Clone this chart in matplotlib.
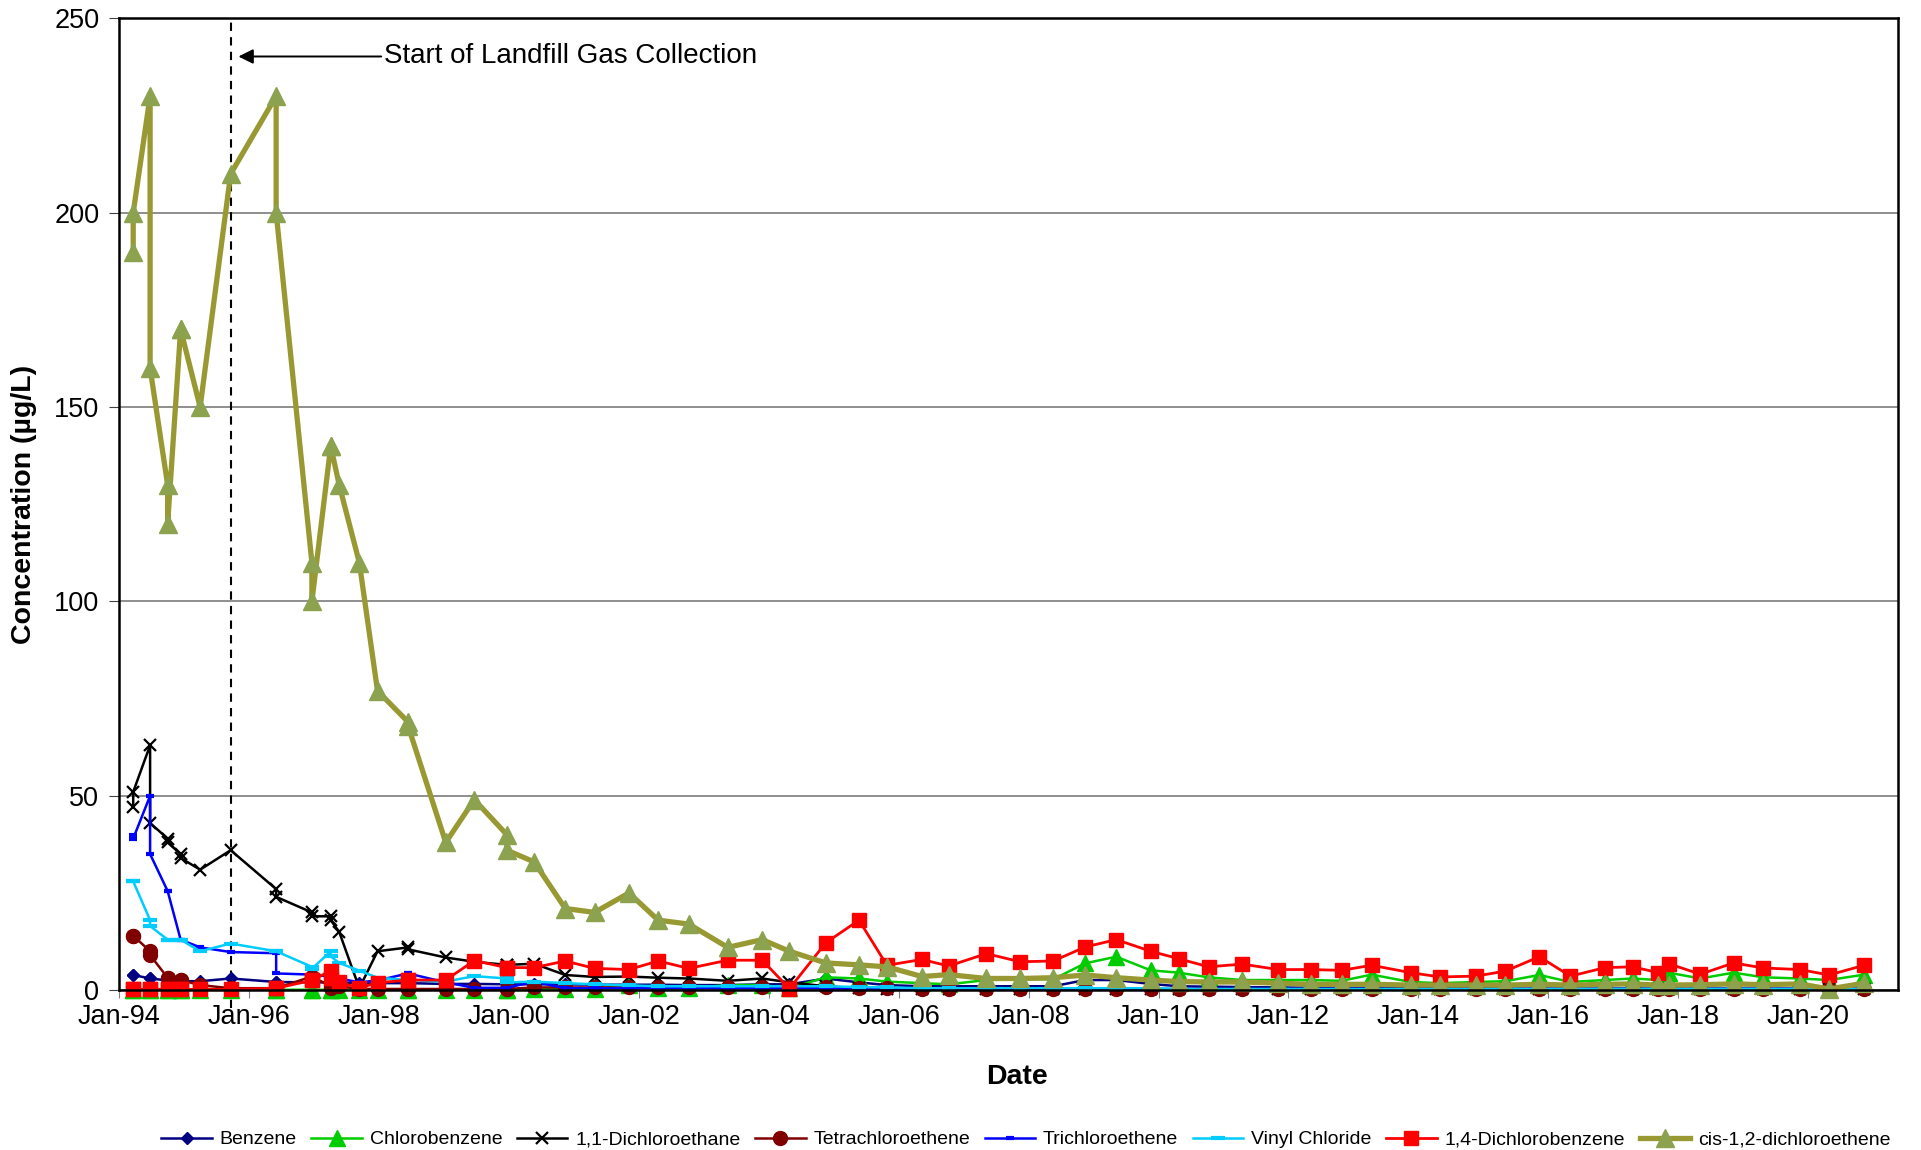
import numpy as np
import matplotlib.pyplot as plt

plt.rcParams['font.family'] = ['Liberation Sans', 'DejaVu Sans']

# sampling dates (decimal years); repeated dates are field duplicates
dates = [1994.22, 1994.22, 1994.48, 1994.48, 1994.75, 1994.75, 1994.95, 1994.95,
         1995.25, 1995.72, 1996.42, 1996.42, 1996.97, 1996.97, 1997.26, 1997.26,
         1997.39, 1997.70, 1997.98, 1998.45, 1998.45, 1999.03, 1999.47, 1999.97, 1999.97,
         2000.39, 2000.87, 2001.32, 2001.85, 2002.30, 2002.77, 2003.37, 2003.90, 2004.32, 2004.88,
         2005.39, 2005.82, 2006.36, 2006.77, 2007.35, 2007.87, 2008.38, 2008.87, 2009.35, 2009.88,
         2010.31, 2010.77, 2011.29, 2011.84, 2012.34, 2012.82, 2013.28, 2013.88, 2014.33, 2014.88,
         2015.34, 2015.86, 2016.34, 2016.87, 2017.30, 2017.69, 2017.85, 2018.34, 2018.85, 2019.31,
         2019.87, 2020.32, 2020.86]

benzene = [3.9, 3.9, 3.0, 3.0, 2.5, 2.5, 2.3, 2.3, 2.3, 3.0, 2.1, 2.1, 2.0, 2.0, 2.0, 2.0,
           2.0, 1.8, 1.8, 1.8, 1.8, 1.6, 1.6, 1.5, 1.5,
           1.5, 1.5, 1.4, 1.4, 1.4, 1.3, 1.3, 1.5, 1.5, 3.0,
           2.0, 1.3, 1.0, 1.0, 1.0, 1.0, 1.0, 2.6, 2.6, 1.6,
           1.0, 0.9, 0.8, 0.7, 0.6, 0.6, 0.5, 0.5, 0.5, 0.5,
           0.4, 0.4, 0.4, 0.4, 0.4, 0.4, 0.4, 0.4, 0.4, 0.4, 0.4, 0.4, 0.4]

chlorobenzene = [0.1, 0.1, 0.1, 0.1, 0.1, 0.1, 0.1, 0.1, 0.1, 0.1, 0.1, 0.1, 0.1, 0.1, 0.1, 0.1,
                 0.1, 0.1, 0.1, 0.1, 0.1, 0.1, 0.1, 0.1, 0.1,
                 0.3, 0.3, 0.3, 1.3, 0.5, 0.5, 1.3, 1.3, 0.5, 3.3,
                 3.0, 2.2, 1.8, 1.5, 2.6, 2.8, 2.8, 6.9, 8.6, 5.1,
                 4.5, 3.3, 2.6, 2.6, 2.6, 2.4, 4.0, 2.1, 1.8, 2.1,
                 2.3, 3.9, 2.1, 2.6, 3.0, 2.6, 4.5, 3.0, 4.5, 3.3, 3.0, 2.6, 4.0]

dca_11 = [47, 51, 63, 43, 39, 38, 35, 34, 31, 36, 26, 24, 20, 19, 19, 18,
          15, 0.5, 10, 11, 10.5, 8.4, 7.3, 6.5, 6.5,
          6.8, 3.9, 3.4, 3.5, 3.2, 3.0, 2.4, 3.0, 2.0, 1.0,
          0.5, 0.3, 0.2, 0.2, 0.2, 0.2, 0.2, 0.2, 0.2, 0.2,
          0.2, 0.2, 0.2, 0.2, 0.2, 0.2, 0.2, 0.2, 0.2, 0.2,
          0.2, 0.2, 0.2, 0.2, 0.2, 0.2, 0.2, 0.2, 0.2, 0.2, 0.2, 0.2, 0.2]

pce = [14, 14, 10, 9, 3.2, 3.2, 2.6, 2.6, 1.3, 0.5, 0.5, 0.5, 3.5, 3.5, 1.0, 0.5,
       1.0, 0.3, 0.3, 0.3, 0.3, 0.3, 0.3, 0.3, 0.3,
       0.7, 0.7, 0.7, 0.7, 0.7, 0.7, 0.7, 0.7, 0.7, 0.7,
       0.5, 0.5, 0.2, 0.2, 0.2, 0.2, 0.2, 0.2, 0.2, 0.2,
       0.2, 0.2, 0.2, 0.2, 0.2, 0.2, 0.2, 0.2, 0.2, 0.2,
       0.2, 0.2, 0.2, 0.2, 0.2, 0.2, 0.2, 0.2, 0.2, 0.2, 0.2, 0.2, 0.2]

tce = [40, 39, 50, 35, 25.5, 25.5, 13, 13, 11, 9.8, 9.5, 4.3, 4.0, 4.0, 3.5, 3.5,
       3.0, 2.0, 2.5, 4.3, 4.3, 2.0, 0.6, 0.6, 0.6,
       2.2, 0.5, 0.5, 0.5, 0.5, 0.5, 0.5, 0.5, 0.5, 0.5,
       0.3, 0.3, 0.3, 0.3, 0.3, 0.3, 0.3, 0.3, 0.3, 0.3,
       0.3, 0.3, 0.3, 0.3, 0.3, 0.3, 0.3, 0.3, 0.3, 0.3,
       0.3, 0.3, 0.3, 0.3, 0.3, 0.3, 0.3, 0.3, 0.3, 0.3, 0.3, 0.3, 0.3]

vinyl_chloride = [28, 28, 18, 16.5, 13, 13, 13, 13, 10, 12, 10, 10, 6.0, 5.5, 10, 8.7,
                  7.0, 5.0, 3.2, 2.6, 2.6, 2.2, 3.6, 3.0, 2.0,
                  2.2, 1.8, 1.5, 1.2, 1.0, 1.0, 1.0, 1.0, 1.0, 1.0,
                  0.8, 0.7, 0.5, 0.5, 0.5, 0.5, 0.5, 0.5, 0.5, 0.5,
                  0.3, 0.3, 0.3, 0.3, 0.3, 0.3, 0.3, 0.3, 0.3, 0.3,
                  0.3, 0.3, 0.3, 0.3, 0.3, 0.3, 0.3, 0.3, 0.3, 0.3, 0.3, 0.3, 0.3]

dcb_14 = [0.2, 0.2, 0.2, 0.2, 0.2, 0.2, 0.2, 0.2, 0.2, 0.2, 0.5, 0.5, 2.5, 2.5, 5.0, 3.0,
          2.0, 0.6, 1.9, 2.6, 2.6, 2.6, 7.6, 5.8, 5.8,
          5.8, 7.5, 5.6, 5.3, 7.5, 5.6, 7.7, 7.7, 0.4, 12.2,
          18, 6.4, 7.9, 6.2, 9.4, 7.3, 7.5, 11.1, 13, 10,
          8.1, 6.0, 6.7, 5.3, 5.3, 5.1, 6.4, 4.5, 3.4, 3.6,
          4.9, 8.6, 3.6, 5.8, 6.0, 4.5, 6.8, 4.1, 7.0, 5.7, 5.3, 3.9, 6.4]

cis_dce = [190, 200, 230, 160, 130, 120, 170, 170, 150, 210, 230, 200, 110, 100, 140, 140,
           130, 110, 77, 69, 68, 38, 49, 40, 36,
           33, 21, 20, 25, 18, 17, 11, 13, 10, 7,
           6.5, 6, 3.5, 4, 3, 3, 3.2, 3.9, 3.2, 2.6,
           2.2, 2.1, 2.1, 1.8, 1.5, 1.5, 1.5, 1.3, 1.3, 1.3,
           1.3, 1.5, 1.3, 1.5, 1.6, 1.3, 1.3, 1.4, 1.6, 1.4, 1.6, 0.3, 1.8]

tick_years = list(range(1994, 2021, 2))
tick_labels = ["Jan-%02d" % (y % 100) for y in tick_years]
gas_start = 1995.72

fig = plt.figure(figsize=(19.21, 11.5), dpi=100)
ax = fig.add_axes([0.0619, 0.139, 0.9261, 0.845])

# series: label, values, line color, marker, marker size, marker color, line width
series = [
    ("Benzene", benzene, "#000080", "D", 6.5, "#000080", 1.8),
    ("Chlorobenzene", chlorobenzene, "#00CC00", "^", 11, "#00CC00", 1.8),
    ("1,1-Dichloroethane", dca_11, "#000000", "x", 9, "#000000", 1.8),
    ("Tetrachloroethene", pce, "#800000", "o", 10, "#800000", 1.8),
    ("Trichloroethene", tce, "#0000FF", "_", 6, "#0000FF", 1.8),
    ("Vinyl Chloride", vinyl_chloride, "#00CCFF", "_", 10, "#00CCFF", 1.8),
    ("1,4-Dichlorobenzene", dcb_14, "#FF0000", "s", 9.5, "#FF0000", 2.0),
    ("cis-1,2-dichloroethene", cis_dce, "#999933", "^", 13.5, "#8CA24F", 3.8),
]

for name, vals, col, mk, ms, mcol, lw in series:
    mew = 3 if mk == "_" else (1.6 if mk == "x" else 1)
    ax.plot(dates, vals, color=col, lw=lw, marker=mk, ms=ms,
            markerfacecolor=mcol, markeredgecolor=mcol, markeredgewidth=mew,
            label=name, clip_on=False)

# start of landfill gas collection
ax.axvline(gas_start, ymin=-0.018, ymax=1, color="black", lw=1.5,
           ls=(0, (4, 3)), clip_on=False, zorder=1)
ax.annotate("Start of Landfill Gas Collection", xy=(gas_start + 0.12, 240.2),
            xytext=(1998.08, 240.2), va="center", ha="left", fontsize=20,
            arrowprops=dict(arrowstyle="-|>", color="black", lw=1.4,
                            mutation_scale=22, shrinkA=0, shrinkB=0))

ax.set_xlim(1994, 2021.38)
ax.set_ylim(0, 250)
ax.set_yticks(np.arange(0, 251, 50))
ax.set_xticks(tick_years)
ax.set_xticklabels(tick_labels)
ax.tick_params(axis="both", labelsize=19.5)
ax.tick_params(axis="x", length=6, color="#808080", pad=4)
ax.tick_params(axis="y", length=7, color="#404040", pad=7)
ax.yaxis.grid(True, color="#868686", lw=1.3)
ax.set_axisbelow(True)
for s in ax.spines.values():
    s.set_linewidth(1.8)

ax.set_ylabel("Concentration (\u00b5g/L)", fontsize=20.5, fontweight="bold")
ax.yaxis.set_label_coords(-0.046, 0.5)
ax.set_xlabel("Date", fontsize=20.5, fontweight="bold")
ax.xaxis.set_label_coords(0.505, -0.0765)

fig.legend(loc="center", bbox_to_anchor=(0.534, 0.009), ncol=8, frameon=False,
           fontsize=14, handlelength=2.6, columnspacing=0.75, handletextpad=0.4)

fig.savefig("out.png", dpi=100)
